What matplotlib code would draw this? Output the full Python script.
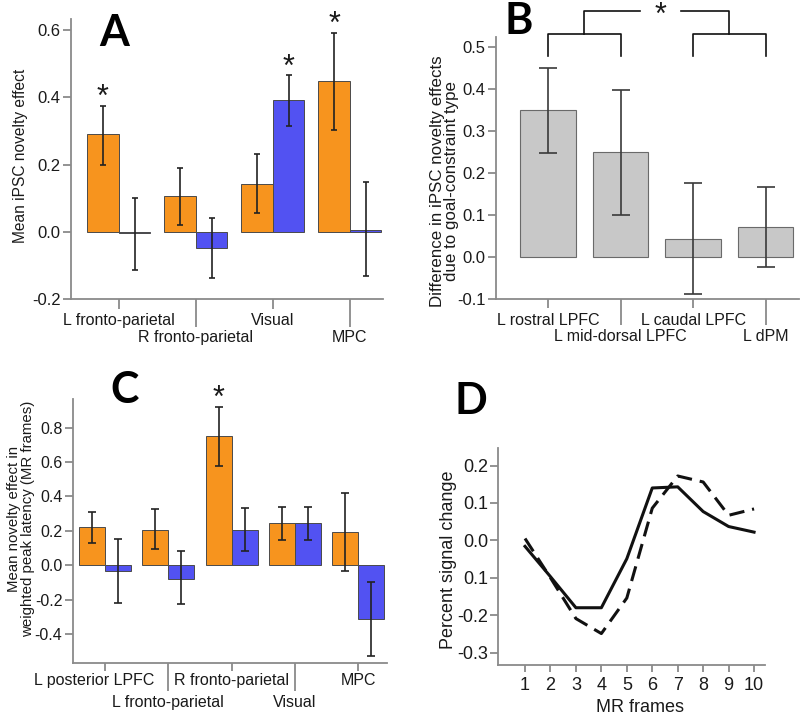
import numpy as np
import matplotlib
matplotlib.use("Agg")
import matplotlib.pyplot as plt
from matplotlib.transforms import ScaledTranslation

plt.rcParams['font.family'] = ['Liberation Sans', 'DejaVu Sans']

W, H = 800, 717

# ---- panel A data
a_labels = ['L fronto-parietal', 'R fronto-parietal', 'Visual', 'MPC']
a_orange = [0.29, 0.105, 0.143, 0.45]
a_orange_lo = [0.20, 0.02, 0.056, 0.304]
a_orange_hi = [0.375, 0.19, 0.23, 0.592]
a_blue = [-0.005, -0.048, 0.391, 0.006]
a_blue_lo = [-0.115, -0.137, 0.316, -0.132]
a_blue_hi = [0.10, 0.04, 0.465, 0.147]
a_star_orange = [0, 3]
a_star_blue = [2]

# ---- panel B data
b_labels = ['L rostral LPFC', 'L mid-dorsal LPFC', 'L caudal LPFC', 'L dPM']
b_vals = [0.349, 0.25, 0.044, 0.072]
b_lo = [0.247, 0.10, -0.088, -0.023]
b_hi = [0.45, 0.398, 0.177, 0.168]

# ---- panel C data
c_labels = ['L posterior LPFC', 'L fronto-parietal', 'R fronto-parietal', 'Visual', 'MPC']
c_orange = [0.222, 0.205, 0.754, 0.245, 0.195]
c_orange_lo = [0.13, 0.093, 0.58, 0.148, -0.035]
c_orange_hi = [0.31, 0.33, 0.92, 0.34, 0.42]
c_blue = [-0.035, -0.077, 0.205, 0.245, -0.313]
c_blue_lo = [-0.222, -0.228, 0.083, 0.148, -0.53]
c_blue_hi = [0.155, 0.083, 0.335, 0.34, -0.097]
c_star_orange = [2]

# ---- panel D data
d_frames = [1, 2, 3, 4, 5, 6, 7, 8, 9, 10]
d_solid = [-0.016, -0.097, -0.18, -0.18, -0.049, 0.14, 0.143, 0.077, 0.037, 0.022]
d_dashed = [0.005, -0.10, -0.209, -0.249, -0.154, 0.086, 0.172, 0.156, 0.067, 0.084]
d_yticks = [-0.3, -0.2, -0.1, 0.0, 0.1, 0.2]
d_yticklabels = ['-0.3', '-0.2', '0.1', '0.0', '0.1', '0.2']

ORANGE = '#F7941E'
BLUE = '#5252F2'
GRAY = '#C8C8C8'
EDGE = '#4a4a4a'
SPINE = '#8a8a8a'
TXT = '#1a1a1a'

fig = plt.figure(figsize=(W / 100, H / 100), dpi=100)


def axes_px(left, top, right, bottom):
    return fig.add_axes([left / W, 1 - bottom / H, (right - left) / W, (bottom - top) / H])


def style(ax, size=12):
    for s in ['top', 'right']:
        ax.spines[s].set_visible(False)
    for s in ['left', 'bottom']:
        ax.spines[s].set_color(SPINE)
        ax.spines[s].set_linewidth(1.3)
    ax.tick_params(colors=SPINE, labelcolor=TXT, labelsize=size, width=1.3, length=6, pad=1.5)


def tiered(ax, labels, short_len, long_len, pad_top, pad_bot):
    x = np.arange(len(labels))
    ax.set_xticks(x[::2], labels[::2])
    ax.set_xticks(x[1::2], labels[1::2], minor=True)
    ax.tick_params(axis='x', which='major', length=short_len, pad=pad_top, labelsize=11.5)
    ax.tick_params(axis='x', which='minor', length=long_len, pad=pad_bot, labelsize=11.5,
                   width=1.3, colors=SPINE, labelcolor=TXT)


def grouped(ax, orange, olo, ohi, blue, blo, bhi, cap):
    x = np.arange(len(orange))
    w = 0.41
    orange, olo, ohi = np.array(orange), np.array(olo), np.array(ohi)
    blue, blo, bhi = np.array(blue), np.array(blo), np.array(bhi)
    ax.bar(x - w / 2, orange, w, color=ORANGE, edgecolor=EDGE, linewidth=0.7)
    ax.bar(x + w / 2, blue, w, color=BLUE, edgecolor=EDGE, linewidth=0.7)
    ax.errorbar(x - w / 2, orange, yerr=[orange - olo, ohi - orange], fmt='none',
                ecolor='#222222', elinewidth=1.2, capsize=cap, capthick=1.2)
    ax.errorbar(x + w / 2, blue, yerr=[blue - blo, bhi - blue], fmt='none',
                ecolor='#222222', elinewidth=1.2, capsize=cap, capthick=1.2)
    return x, w


def star(ax, x, y):
    ax.annotate('*', xy=(x, y), xytext=(0, 5.5), textcoords='offset points',
                ha='center', va='center', fontsize=22, color=TXT, annotation_clip=False)


def ptext(x, y, s, **kw):
    fig.text(x / W, 1 - y / H, s, **kw)


# ---------------- A
ax = axes_px(71, 19, 383, 299)
style(ax)
x, w = grouped(ax, a_orange, a_orange_lo, a_orange_hi, a_blue, a_blue_lo, a_blue_hi, 2.3)
for i in a_star_orange:
    star(ax, x[i] - w / 2, a_orange_hi[i])
for i in a_star_blue:
    star(ax, x[i] + w / 2, a_blue_hi[i])
ax.set_ylim(-0.2, 0.633)
ax.set_xlim(-0.62, 3.43)
ax.set_yticks([-0.2, 0.0, 0.2, 0.4, 0.6], ['-0.2', '0.0', '0.2', '0.4', '0.6'])
tiered(ax, a_labels, 7.2, 20, 3, 2)
ptext(21, 156, 'Mean iPSC novelty effect', rotation=90, ha='center', va='center',
      fontsize=11.2, color=TXT)
ptext(114, 33, 'A', fontsize=31, fontweight='bold', family='Lato', ha='center', va='center')

# ---------------- B
ax = axes_px(495.7, 36.7, 799, 299.3)
style(ax)
xb = np.arange(len(b_vals))
bv, bl, bh = np.array(b_vals), np.array(b_lo), np.array(b_hi)
ax.bar(xb, bv, 0.76, color=GRAY, edgecolor='#6a6a6a', linewidth=0.8)
ax.errorbar(xb, bv, yerr=[bv - bl, bh - bv], fmt='none', ecolor='#3a3a3a',
            elinewidth=1.2, capsize=6.5, capthick=1.2)
ax.set_ylim(-0.1, 0.524)
ax.set_xlim(-0.72, 3.46)
ax.set_yticks([-0.1, 0.0, 0.1, 0.2, 0.3, 0.4, 0.5],
              ['-0.1', '0.0', '0.1', '0.2', '0.3', '0.4', '0.5'])
tiered(ax, b_labels, 6.5, 19, 3.5, 2.5)
# significance bracket
leg_y, mid_y, top_y = 0.479, 0.530, 0.585
kw = dict(color='#111111', lw=1.2, clip_on=False)
for a, b in [(0, 1), (2, 3)]:
    ax.plot([xb[a], xb[a], xb[b], xb[b]], [leg_y, mid_y, mid_y, leg_y], **kw)
lm, rm = (xb[0] + xb[1]) / 2, (xb[2] + xb[3]) / 2
sx = 1.55
ax.plot([lm, lm, sx - 0.28], [mid_y, top_y, top_y], **kw)
ax.plot([sx + 0.28, rm, rm], [top_y, top_y, mid_y], **kw)
ax.annotate('*', xy=(sx, top_y), xytext=(0, -3.5), textcoords='offset points',
            ha='center', va='center', fontsize=22, color=TXT, annotation_clip=False)
ptext(444.5, 181, 'Difference in iPSC novelty effects\ndue to goal-constraint type',
      rotation=90, ha='center', va='center', fontsize=12.2, color=TXT, linespacing=0.86)
ptext(518.5, 21, 'B', fontsize=31, fontweight='bold', family='Lato', ha='center', va='center')

# ---------------- C
ax = axes_px(72.7, 399.3, 386.7, 663.3)
style(ax, 11.5)
x, w = grouped(ax, c_orange, c_orange_lo, c_orange_hi, c_blue, c_blue_lo, c_blue_hi, 2.6)
for i in c_star_orange:
    star(ax, x[i] - w / 2, c_orange_hi[i])
ax.set_ylim(-0.57, 0.965)
ax.set_xlim(-0.51, 4.45)
ax.set_yticks([-0.4, -0.2, 0.0, 0.2, 0.4, 0.6, 0.8],
              ['-0.4', '-0.2', '0.0', '0.2', '0.4', '0.6', '0.8'])
tiered(ax, c_labels, 6, 20, 1, 3)
first = ax.get_xticklabels()[0]
first.set_transform(first.get_transform() + ScaledTranslation(-0.11, 0, fig.dpi_scale_trans))
ptext(21, 519, 'Mean novelty effect in\nweighted peak latency (MR frames)',
      rotation=90, ha='center', va='center', fontsize=10.8, color=TXT, linespacing=1.05)
ptext(125, 390, 'C', fontsize=31, fontweight='bold', family='Lato', ha='center', va='center')

# ---------------- D
ax = axes_px(498.3, 448.3, 765, 665)
style(ax, 13)
ax.plot(d_frames, d_solid, color='#111111', lw=2.2)
ax.plot(d_frames, d_dashed, color='#111111', lw=2.2, dashes=(5, 2.6))
ax.set_xlim(-0.05, 10.43)
ax.set_ylim(-0.333, 0.246)
ax.set_xticks(d_frames)
ax.set_yticks(d_yticks, d_yticklabels)
ax.tick_params(axis='x', length=5, pad=3.5)
ptext(640, 708, 'MR frames', ha='center', va='center', fontsize=13, color=TXT)
ptext(448, 560, 'Percent signal change', rotation=90, ha='center', va='center',
      fontsize=13, color=TXT)
ptext(470.5, 401.5, 'D', fontsize=31, fontweight='bold', family='Lato', ha='center', va='center')

fig.savefig('out.png', dpi=100)
